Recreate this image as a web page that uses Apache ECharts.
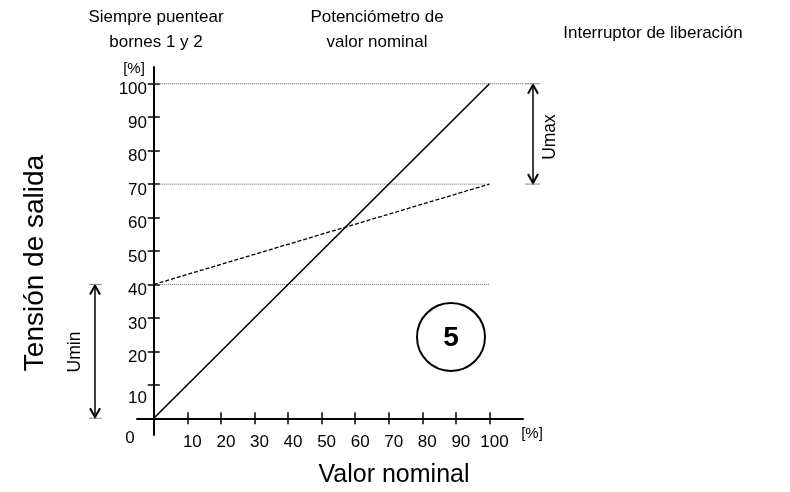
<!DOCTYPE html>
<html>
<head>
<meta charset="utf-8">
<script src="https://cdn.jsdelivr.net/npm/echarts@6/dist/echarts.min.js"></script>
<style>
  html, body { margin: 0; padding: 0; background: #fff; }
  #main { width: 790px; height: 492px; }
</style>
</head>
<body>
<div id="main"></div>
<script>
// valores
var xTicks = [10, 20, 30, 40, 50, 60, 70, 80, 90, 100];
var yTicks = [10, 20, 30, 40, 50, 60, 70, 80, 90, 100];
var setpoint = [0, 100];
var outFull = [0, 100];      // linea continua
var outLimited = [40, 70];   // linea discontinua (Umin 40 / Umax 70)
var refLevels = [40, 70, 100];
var refEnds = [100, 100, 115];
var uminRange = [0, 40];
var umaxRange = [70, 100];

var FONT = 'Liberation Sans, Arial, sans-serif';

function pairs(xs, ys) {
  return xs.map(function (x, i) { return [x, ys[i]]; });
}

var refSeries = refLevels.map(function (lv, i) {
  return {
    type: 'line',
    data: [[0, lv], [refEnds[i], lv]],
    symbol: 'none',
    clip: false,
    silent: true,
    z: 1,
    lineStyle: { color: '#666', width: 1, type: [1, 1] }
  };
});

var option = {
  animation: false,
  backgroundColor: '#fff',
  grid: { left: 137, right: 267, top: 67, bottom: 57, containLabel: false, outerBoundsMode: 'none' },
  xAxis: [{
    type: 'value', min: -5, max: 110,
    axisLine: { onZero: true, onZeroAxisIndex: 0, lineStyle: { color: '#000', width: 2 } },
    axisTick: { customValues: xTicks, length: 6, lineStyle: { color: '#000', width: 1.5 } },
    axisLabel: {
      customValues: xTicks, color: '#000', fontSize: 17, fontFamily: FONT,
      margin: -1, padding: [0, 0, 0, 10]
    },
    splitLine: { show: false }
  }, {
    type: 'value', min: -5, max: 110, position: 'bottom',
    axisLine: { show: false, onZero: true, onZeroAxisIndex: 0 },
    axisTick: { customValues: xTicks, inside: true, length: 6, lineStyle: { color: '#000', width: 1.5 } },
    axisLabel: { show: false },
    splitLine: { show: false }
  }],
  yAxis: [{
    type: 'value', min: -5, max: 105,
    axisLine: { onZero: true, onZeroAxisIndex: 0, lineStyle: { color: '#000', width: 2 } },
    axisTick: { customValues: yTicks, length: 6, lineStyle: { color: '#000', width: 1.5 } },
    axisLabel: {
      customValues: yTicks, color: '#000', fontSize: 17, fontFamily: FONT, margin: -10,
      formatter: function (v) { return v === 10 ? '{lo|10}' : '{n|' + v + '}'; },
      rich: {
        n: { fontSize: 17, fontFamily: FONT, color: '#000', padding: [12, 0, 0, 0] },
        lo: { fontSize: 17, fontFamily: FONT, color: '#000', padding: [26, 0, 0, 0] }
      }
    },
    splitLine: { show: false }
  }, {
    type: 'value', min: -5, max: 105, position: 'left',
    axisLine: { show: false, onZero: true, onZeroAxisIndex: 0 },
    axisTick: { customValues: yTicks, inside: true, length: 6, lineStyle: { color: '#000', width: 1.5 } },
    axisLabel: { show: false },
    splitLine: { show: false }
  }],
  series: refSeries.concat([
    {
      type: 'line',
      data: pairs(setpoint, outLimited),
      symbol: 'none',
      z: 2,
      lineStyle: { color: '#000', width: 1.3, type: [4, 2] }
    },
    {
      type: 'line',
      data: pairs(setpoint, outFull),
      symbol: 'none',
      z: 3,
      lineStyle: { color: '#000', width: 1.6 }
    }
  ])
};

var chart = echarts.init(document.getElementById('main'));
chart.setOption(option);

function py(v) { return chart.convertToPixel({ gridIndex: 0 }, [0, v])[1]; }

function arrow(x, range, barL, barR) {
  var yt = py(range[1]), yb = py(range[0]);
  var st = { stroke: '#000', lineWidth: 1.5, fill: null };
  return {
    type: 'group',
    children: [
      { type: 'line', shape: { x1: x, y1: yt + 1, x2: x, y2: yb - 1 }, style: st },
      { type: 'polyline', shape: { points: [[x - 5, yt + 10], [x, yt + 1], [x + 5, yt + 10]] }, style: { stroke: '#000', lineWidth: 2, fill: null } },
      { type: 'polyline', shape: { points: [[x - 5, yb - 10], [x, yb - 1], [x + 5, yb - 10]] }, style: { stroke: '#000', lineWidth: 2, fill: null } },
      { type: 'line', shape: { x1: x - barL, y1: yt, x2: x + barR, y2: yt }, style: { stroke: '#888', lineWidth: 1 } },
      { type: 'line', shape: { x1: x - barL, y1: yb, x2: x + barR, y2: yb }, style: { stroke: '#888', lineWidth: 1 } }
    ]
  };
}

function txt(x, y, s, size, extra) {
  var o = {
    type: 'text', x: x, y: y,
    style: { text: s, fill: '#000', font: size + 'px ' + FONT, textAlign: 'center', textVerticalAlign: 'middle' }
  };
  if (extra) { for (var k in extra) o.style[k] = extra[k]; }
  return o;
}

function vtxt(x, y, s, size) {
  return {
    type: 'text', x: x, y: y, rotation: Math.PI / 2,
    style: { text: s, fill: '#000', font: size + 'px ' + FONT, textAlign: 'center', textVerticalAlign: 'middle' }
  };
}

chart.setOption({
  graphic: [
    txt(156, 30, 'Siempre puentear\nbornes 1 y 2', 17, { lineHeight: 25 }),
    txt(377, 30, 'Potenciómetro de\nvalor nominal', 17, { lineHeight: 25 }),
    txt(653, 33, 'Interruptor de liberación', 17),
    txt(134, 69, '[%]', 15),
    txt(532, 434, '[%]', 15),
    txt(130, 438, '0', 17),
    txt(394, 475, 'Valor nominal', 25),
    vtxt(35, 263, 'Tensión de salida', 28),
    vtxt(75, 352, 'Umin', 17.5),
    vtxt(550, 137, 'Umax', 17.5),
    arrow(95, uminRange, 6, 7),
    arrow(533, umaxRange, 8, 7),
    { type: 'circle', shape: { cx: 451, cy: 337, r: 34 }, style: { stroke: '#000', lineWidth: 2, fill: null } },
    txt(451, 338, '5', 28, { font: 'bold 28px ' + FONT })
  ]
});
</script>
</body>
</html>
